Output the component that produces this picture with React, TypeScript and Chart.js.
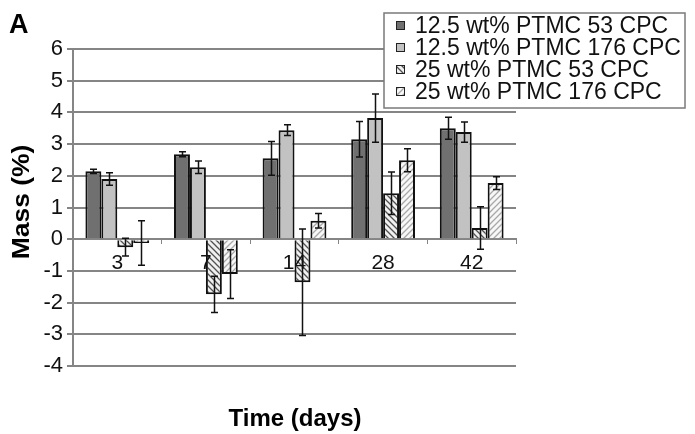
import React, { useEffect, useRef } from "react";
import { Chart, registerables } from "chart.js";

Chart.register(...registerables);

const categories = ["3", "7", "14", "28", "42"];
const seriesNames = [
  "12.5 wt% PTMC 53 CPC",
  "12.5 wt% PTMC 176 CPC",
  "25 wt% PTMC 53 CPC",
  "25 wt% PTMC 176 CPC",
];
const s1Values = [2.14, 2.68, 2.55, 3.15, 3.5];
const s1Errors = [0.07, 0.08, 0.53, 0.56, 0.35];
const s2Values = [1.9, 2.27, 3.44, 3.82, 3.38];
const s2Errors = [0.2, 0.2, 0.17, 0.76, 0.32];
const s3Values = [-0.25, -1.74, -1.36, 1.45, 0.35];
const s3Errors = [0.28, 0.57, 1.68, 0.67, 0.67];
const s4Values = [-0.12, -1.1, 0.58, 2.49, 1.77];
const s4Errors = [0.7, 0.77, 0.23, 0.36, 0.2];
const yTicks = [-4, -3, -2, -1, 0, 1, 2, 3, 4, 5, 6];

const FONT = "'Liberation Sans', Arial, sans-serif";
const GRID = "#858585";

function makeHatch(lineColor: string, bg: string, dir: number): CanvasPattern | string {
  const c = document.createElement("canvas");
  const s = 6;
  c.width = s;
  c.height = s;
  const g = c.getContext("2d");
  if (!g) return bg;
  g.fillStyle = bg;
  g.fillRect(0, 0, s, s);
  g.strokeStyle = lineColor;
  g.lineWidth = 1.3;
  g.beginPath();
  if (dir > 0) {
    g.moveTo(-1, -1); g.lineTo(s + 1, s + 1);
    g.moveTo(-1, s - 1); g.lineTo(1, s + 1);
    g.moveTo(s - 1, -1); g.lineTo(s + 1, 1);
  } else {
    g.moveTo(-1, s + 1); g.lineTo(s + 1, -1);
    g.moveTo(-1, 1); g.lineTo(1, -1);
    g.moveTo(s - 1, s + 1); g.lineTo(s + 1, s - 1);
  }
  g.stroke();
  const p = g.createPattern(c, "repeat");
  return p || bg;
}

export default function App() {
  const ref = useRef<HTMLCanvasElement | null>(null);

  useEffect(() => {
    const canvas = ref.current;
    if (!canvas) return;
    const fills: any[] = [
      "#707070",
      "#c2c2c2",
      makeHatch("#505050", "#f0f0f0", 1),
      makeHatch("#a8a8a8", "#f7f7f7", -1),
    ];
    const errors = [s1Errors, s2Errors, s3Errors, s4Errors];

    const errorBars = {
      id: "errorBars",
      afterDatasetsDraw(chart: any) {
        const ctx = chart.ctx;
        const ys = chart.scales.y;
        ctx.save();
        ctx.strokeStyle = "#111";
        ctx.lineWidth = 1.5;
        chart.data.datasets.forEach((ds: any, i: number) => {
          const meta = chart.getDatasetMeta(i);
          meta.data.forEach((bar: any, j: number) => {
            const v = ds.data[j];
            const e = errors[i][j];
            const x = Math.round(bar.x) + 0.5;
            const yt = ys.getPixelForValue(v + e);
            const yb = ys.getPixelForValue(v - e);
            ctx.beginPath();
            ctx.moveTo(x, yt); ctx.lineTo(x, yb);
            ctx.moveTo(x - 3.5, yt); ctx.lineTo(x + 3.5, yt);
            ctx.moveTo(x - 3.5, yb); ctx.lineTo(x + 3.5, yb);
            ctx.stroke();
          });
        });
        ctx.restore();
      },
    };

    const decorations = {
      id: "decorations",
      afterDraw(chart: any) {
        const ctx = chart.ctx;
        ctx.save();
        ctx.fillStyle = "#000";
        ctx.font = `bold 27px ${FONT}`;
        ctx.textBaseline = "middle";
        ctx.textAlign = "left";
        ctx.fillText("A", 9, 26);
        // y title
        ctx.save();
        ctx.translate(23, 202);
        ctx.rotate(-Math.PI / 2);
        ctx.scale(1.15, 1);
        ctx.textAlign = "center";
        ctx.font = `bold 23px ${FONT}`;
        ctx.fillText("Mass (%)", 0, 0);
        ctx.restore();
        // x title
        ctx.textAlign = "center";
        ctx.font = `bold 24px ${FONT}`;
        ctx.fillText("Time (days)", 295, 419);
        // legend
        const lx = 384, ly = 13, lw = 301, lh = 95;
        ctx.fillStyle = "#fff";
        ctx.fillRect(lx, ly, lw, lh);
        ctx.strokeStyle = "#7a7a7a";
        ctx.lineWidth = 1.5;
        ctx.strokeRect(lx, ly, lw, lh);
        ctx.font = `23px ${FONT}`;
        ctx.textAlign = "left";
        ctx.textBaseline = "middle";
        seriesNames.forEach((name, i) => {
          const cy = 25 + i * 22;
          ctx.fillStyle = fills[i];
          ctx.fillRect(396, cy - 4, 9, 9);
          ctx.strokeStyle = "#222";
          ctx.lineWidth = 1;
          ctx.strokeRect(396.5, cy - 3.5, 8, 8);
          ctx.fillStyle = "#111";
          ctx.fillText(name, 415, cy + 1.5);
        });
        ctx.restore();
      },
    };

    const mk = (i: number, data: number[]) => ({
      label: seriesNames[i],
      data,
      backgroundColor: fills[i],
      borderColor: "#111",
      borderWidth: 2,
      categoryPercentage: 0.72,
      barPercentage: 1,
    });

    const chart = new Chart(canvas, {
      type: "bar",
      data: {
        labels: categories,
        datasets: [mk(0, s1Values), mk(1, s2Values), mk(2, s3Values), mk(3, s4Values)],
      },
      plugins: [errorBars, decorations],
      options: {
        animation: false,
        responsive: false,
        devicePixelRatio: 1,
        layout: { padding: { left: 0, top: 49, right: 179, bottom: 68 } },
        plugins: { legend: { display: false }, tooltip: { enabled: false } },
        scales: {
          x: {
            type: "category",
            position: { y: 0 } as any,
            grid: {
              display: true,
              drawOnChartArea: false,
              drawTicks: true,
              tickLength: 4,
              offset: true,
              color: GRID,
              lineWidth: 1,
            },
            border: { display: true, color: GRID, width: 2 },
            ticks: {
              color: "#111",
              font: { size: 21, family: FONT },
              padding: 7,
              maxRotation: 0,
              z: 1,
            },
            afterFit(s: any) {
              s.height = 0;
            },
          },
          y: {
            min: -4,
            max: 6,
            afterBuildTicks(s: any) {
              s.ticks = yTicks.map((v) => ({ value: v }));
            },
            grid: {
              color: GRID,
              lineWidth: 2,
              drawTicks: true,
              tickLength: 6,
            },
            border: { display: true, color: GRID, width: 2 },
            ticks: {
              color: "#111",
              font: { size: 22, family: FONT },
              padding: 4,
            },
            afterFit(s: any) {
              s.width = 73;
            },
          },
        },
      } as any,
    });
    return () => chart.destroy();
  }, []);

  return (
    <div style={{ position: "fixed", left: 0, top: 0, width: 695, height: 434, background: "#fff" }}>
      <canvas ref={ref} width={695} height={434} />
    </div>
  );
}
